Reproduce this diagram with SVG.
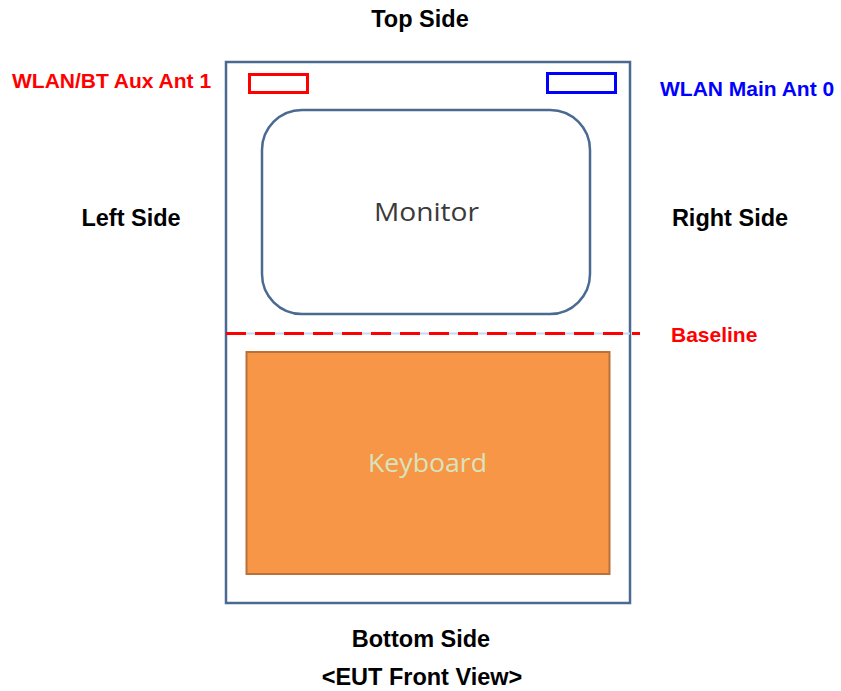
<svg xmlns="http://www.w3.org/2000/svg" width="841" height="691" viewBox="0 0 841 691">
<style>
.lbl{font-family:"Liberation Sans",Arial,sans-serif;font-weight:bold;font-size:23.5px;fill:#000;text-anchor:middle}
.ant{font-family:"Liberation Sans",Arial,sans-serif;font-weight:bold;font-size:21px}
.box{fill:none;stroke:#4A6A92;stroke-width:2.5}
.inner{font-family:"Open Sans","Noto Sans",sans-serif;font-size:26px;text-anchor:middle}
</style>
<rect width="841" height="691" fill="#fff"/>
<g id="labels">
<text class="lbl" x="420" y="27">Top Side</text>
<text class="lbl" x="131" y="226">Left Side</text>
<text class="lbl" x="730" y="226">Right Side</text>
<text class="lbl" x="421" y="647">Bottom Side</text>
<text class="lbl" x="422" y="685">&lt;EUT Front View&gt;</text>
<text class="ant" x="12" y="87.5" fill="#FF0000">WLAN/BT Aux Ant 1</text>
<text class="ant" x="660" y="95.5" fill="#0000FF">WLAN Main Ant 0</text>
<text class="ant" x="671" y="341.5" fill="#FF0000">Baseline</text>
</g>
<g id="eut">
<rect class="box" x="226" y="62" width="404" height="541"/>
</g>
<g id="aux-ant">
<rect x="249.5" y="74.5" width="58" height="18" fill="none" stroke="#FF0000" stroke-width="3"/>
</g>
<g id="main-ant">
<rect x="547.5" y="73.5" width="68" height="19" fill="none" stroke="#0000FF" stroke-width="3"/>
</g>
<g id="monitor">
<rect class="box" x="262" y="110" width="328" height="204" rx="40" ry="40"/>
<text class="inner" x="426.5" y="221" fill="#3A3A3A" textLength="105" lengthAdjust="spacingAndGlyphs">Monitor</text>
</g>
<g id="baseline">
<line x1="226" y1="333.5" x2="630" y2="333.5" stroke="#C6D9F1" stroke-width="2"/>
<line x1="226" y1="333.5" x2="640" y2="333.5" stroke="#FF0000" stroke-width="3" stroke-dasharray="20 9"/>
</g>
<g id="keyboard">
<rect x="246.5" y="352" width="363" height="222" fill="#F79646" stroke="#B8713A" stroke-width="2"/>
<text class="inner" x="427.5" y="472" fill="#D7E4BD" textLength="119" lengthAdjust="spacingAndGlyphs">Keyboard</text>
</g>
</svg>
